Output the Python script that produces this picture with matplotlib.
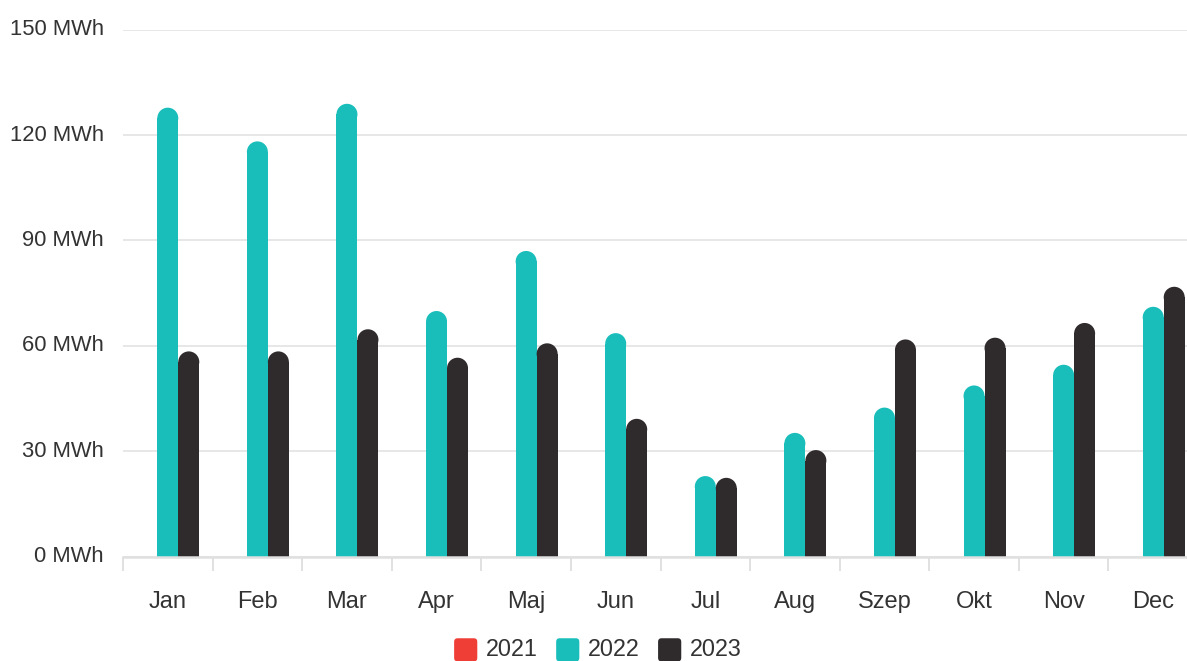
import matplotlib
matplotlib.use("Agg")
import matplotlib.pyplot as plt
import numpy as np
from matplotlib.patches import Ellipse, FancyBboxPatch, Patch
from matplotlib.legend_handler import HandlerPatch
from matplotlib.transforms import ScaledTranslation

months = ["Jan", "Feb", "Mar", "Apr", "Maj", "Jun", "Jul", "Aug", "Szep", "Okt", "Nov", "Dec"]
y2021 = [np.nan] * 12
y2022 = [127.8, 118.2, 128.9, 69.9, 87.0, 63.6, 22.9, 35.2, 42.4, 48.7, 54.6, 71.1]
y2023 = [58.4, 58.4, 64.7, 56.6, 60.7, 39.2, 22.4, 30.3, 61.8, 62.3, 66.5, 76.8]
series_names = ["2021", "2022", "2023"]
series_vals = [y2021, y2022, y2023]
colors = ["#ef3e36", "#19bebb", "#2f2a2c"]
yticks = [0, 30, 60, 90, 120, 150]
ytick_labels = [f"{v} MWh" for v in yticks]

plt.rcParams['font.family'] = ['Liberation Sans', 'DejaVu Sans']

W, H = 1187, 661
fig = plt.figure(figsize=(W / 100, H / 100), dpi=100)
left_px, right_px, top_px, bottom_px = 123, 1198, 29.7, 556.5
ax = fig.add_axes([left_px / W, (H - bottom_px) / H, (right_px - left_px) / W, (bottom_px - top_px) / H])
ax.set_xlim(-0.5, 11.5)
ax.set_ylim(0, 150)

bw = 21 / 89.6
px_x = (right_px - left_px) / 12.0
px_y = (bottom_px - top_px) / 150.0
r_px = bw * px_x / 2
r_y = r_px / px_y

x = np.arange(len(months))
for i, (vals, c) in enumerate(zip(series_vals, colors)):
    offs = (i - 1) * bw
    v = np.array(vals, dtype=float)
    ok = ~np.isnan(v)
    if not ok.any():
        continue
    ax.bar(x[ok] + offs, v[ok] - r_y, width=bw, color=c, linewidth=0, zorder=3)
    for xi, vi in zip(x[ok] + offs, v[ok]):
        ax.add_patch(Ellipse((xi, vi - r_y), bw, 2 * r_y, facecolor=c, edgecolor='none', zorder=3))

# grid
ax.set_yticks(yticks)
ax.set_yticklabels(ytick_labels)
ax.grid(axis='y', color='#e3e3e3', linewidth=1.2, zorder=0)
ax.set_axisbelow(True)
for s in ['top', 'right', 'left']:
    ax.spines[s].set_visible(False)
ax.spines['bottom'].set_color('#e0e0e0')
ax.spines['bottom'].set_linewidth(1.8)
ax.spines['bottom'].set_zorder(4)
ax.tick_params(axis='y', length=0, pad=14, labelsize=15.8, labelcolor='#333333')
for lbl in ax.get_yticklabels():
    lbl.set_transform(lbl.get_transform() + ScaledTranslation(0, 2.5 / 100, fig.dpi_scale_trans))

ax.set_xticks(x)
ax.set_xticklabels(months)
ax.set_xticks(np.arange(-0.5, 12, 1), minor=True)
ax.tick_params(axis='x', which='major', length=0, pad=24.5, labelsize=17, labelcolor='#333333')
ax.tick_params(axis='x', which='minor', length=10, width=1.1, color='#d9d9d9')

class RoundHandler(HandlerPatch):
    def create_artists(self, legend, orig_handle, xdescent, ydescent, width, height, fontsize, trans):
        s = min(width, height)
        p = FancyBboxPatch((-xdescent + (width - s) / 2, -ydescent + (height - s) / 2 - 1), s, s,
                           boxstyle="round,pad=0,rounding_size=%f" % (s * 0.15),
                           facecolor=orig_handle.get_facecolor(), edgecolor='none', transform=trans)
        return [p]

handles = [Patch(facecolor=c, label=n) for c, n in zip(colors, series_names)]
fig.legend(handles=handles, loc='center', bbox_to_anchor=(0.503, 0.018), ncol=3, frameon=False,
           fontsize=16.8, handlelength=1.15, handleheight=1.15, handletextpad=0.3, columnspacing=0.7,
           labelcolor='#333333', handler_map={Patch: RoundHandler()})

fig.savefig("out.png", dpi=100)
